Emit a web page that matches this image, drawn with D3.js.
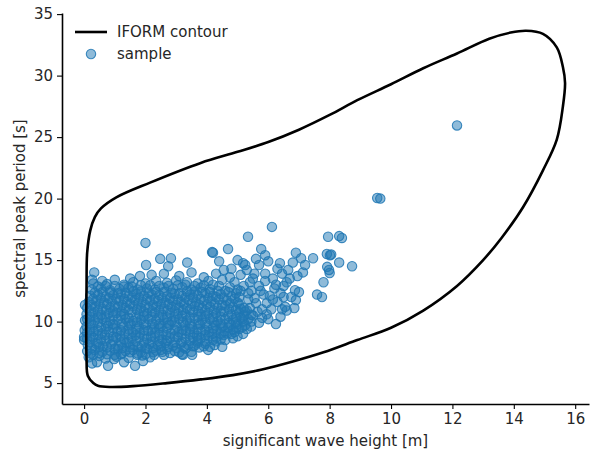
<!DOCTYPE html>
<html>
<head>
<meta charset="utf-8">
<script src="https://cdn.jsdelivr.net/npm/d3@7"></script>
<style>
	body { margin: 0; background: #fff; }
	text { font-family: 'DejaVu Sans', sans-serif; fill: #262626; }
</style>
</head>
<body>
<div class="chart"></div>
<script>
// contour points (Hs, Tp) in drawing order
const contourHs = [0.3, 0.12, 0.08, 0.07, 0.08, 0.1, 0.2, 0.35, 0.55, 1.05, 2.15, 3.8, 5.0, 6.0, 7.0, 8.0, 8.9, 10.0, 11.05, 12.15, 13.2, 13.9, 14.4, 14.95, 15.4, 15.6, 15.67, 15.6, 15.4, 14.95, 14.3, 13.6, 13.0, 12.15, 11.05, 10.0, 8.9, 7.8, 6.8, 5.8, 4.85, 3.8, 2.7, 1.6, 0.85, 0.45];
const contourTp = [5.0, 5.6, 7.0, 10.0, 13.0, 15.6, 17.4, 18.5, 19.2, 20.1, 21.3, 22.9, 23.8, 24.6, 25.6, 26.8, 28.0, 29.3, 30.6, 31.8, 33.0, 33.5, 33.65, 33.4, 32.3, 30.7, 29.4, 27.5, 24.8, 22.3, 19.3, 16.8, 15.0, 12.9, 10.9, 9.5, 8.5, 7.5, 6.75, 6.1, 5.65, 5.3, 5.0, 4.75, 4.68, 4.78];

// sample points [Hs, Tp]
const samples = [
	[12.15,25.95],[9.55,20.05],[9.65,20.0],[6.12,17.7],[2.0,16.4],[5.34,16.9],[4.17,15.65],[4.2,15.6],[4.69,15.9],[4.4,14.9],
	[5.77,15.9],[6.38,14.75],[5.18,14.75],[3.36,14.8],[2.02,14.6],[2.48,15.1],[2.83,15.15],[0.33,14.0],[1.0,13.4],[0.59,13.3],
	[0.26,13.4],[1.82,13.7],[1.3,13.0],[2.74,14.5],
	[0.78,6.4],[1.66,6.4],[1.3,6.7],[1.92,6.8],[2.28,7.3],[2.51,7.7],[0.26,6.6],[0.42,6.7],[0.98,6.95],[0.0,8.75],
	[0.03,10.1],[3.19,7.35],[1.73,7.3],[0.03,11.35],[0.0,8.5],[0.02,9.3],
	[4.04,7.7],[4.5,7.95],[3.52,7.3],[3.22,7.3],[4.85,8.65],[5.18,9.0],[5.44,9.6],[6.25,9.8],[5.8,10.3],[3.55,8.0],
	[7.95,16.9],[8.31,16.95],[8.4,16.8],[7.91,15.5],[8.01,15.4],[8.31,14.8],[8.73,14.5],[7.46,15.15],[7.98,14.2],[7.8,13.2],
	[7.59,12.2],[7.75,12.0],[6.9,15.6],[7.07,15.15],[7.2,14.6],[7.13,14.0],[6.9,11.75],[6.87,12.55],[6.65,14.2],[6.6,13.2],
	[8.05,15.45],[7.92,14.45],[8.0,13.95],
	[6.5,12.9],[6.7,13.5],[6.45,13.9],[6.55,11.2],[6.4,12.3],[6.8,14.8],[6.95,13.7],[6.75,12.0],[6.6,10.9],[6.3,11.6],
	[6.2,12.7],[6.15,13.5],[6.3,14.3],[6.0,14.9],[6.05,12.1],[6.1,11.0],[5.95,10.6],[6.4,10.4],[6.85,11.1],[7.0,12.4],
	[5.1,13.8],[5.3,14.2],[5.5,13.5],[5.7,14.6],[5.9,13.9],[5.2,12.9],[5.45,12.5],[5.7,12.9],[5.85,12.2],[5.35,11.8],
	[5.6,11.5],[5.8,11.0],[5.25,10.8],[5.5,10.5],[5.15,10.2],[5.7,9.9],[5.4,13.2],[5.05,11.4],[5.9,15.4],[5.6,15.1],
	[5.0,15.0],[5.25,14.6],
	[5.55,11.9],[5.75,12.5],[5.95,11.5],[6.15,11.8],[5.65,10.8],[5.9,13.3],[6.25,13.0],[6.5,12.0],[5.35,12.3],[5.55,13.9],
	[4.9,13.2],[5.1,12.5],[4.8,14.3],[4.55,14.2],[6.45,11.0],[6.0,10.2],[5.3,9.4],[5.0,8.8],
	[0.15,7.1],[0.5,7.2],[0.7,7.0],[1.05,7.15],[1.45,7.05],[1.9,7.25],[2.15,7.1],[2.6,7.3],[0.3,7.3],[1.2,7.35],
	[0.1,7.6],[0.35,7.7],[0.6,7.55],[0.85,7.65],[1.1,7.75],[1.35,7.6],[1.6,7.7],[1.85,7.55],[2.05,7.8],[2.35,7.65],
	[2.7,7.75],[2.95,7.6],[3.3,7.8],[3.75,7.9],[4.25,8.1],
	[0.12,8.1],[0.4,8.2],[0.62,8.0],[0.88,8.15],[1.12,8.05],[1.38,8.25],[1.6,8.1],[1.88,8.0],[2.12,8.2],[2.4,8.1],
	[2.65,8.25],[2.9,8.05],[3.15,8.2],[3.4,8.1],[3.7,8.3],[3.95,8.2],[4.3,8.4],[4.6,8.5],
	[0.1,8.6],[0.3,8.7],[0.55,8.55],[0.8,8.65],[1.05,8.7],[1.3,8.55],[1.55,8.65],[1.8,8.75],[2.05,8.6],[2.3,8.7],
	[2.55,8.55],[2.8,8.65],[3.05,8.75],[3.3,8.6],[3.55,8.7],[3.8,8.65],[4.05,8.8],[4.3,8.7],[4.55,8.9],[4.8,9.0],
	[0.1,9.1],[0.32,9.2],[0.58,9.05],[0.82,9.15],[1.08,9.2],[1.32,9.05],[1.58,9.15],[1.82,9.1],[2.08,9.25],[2.32,9.1],
	[2.58,9.2],[2.82,9.05],[3.08,9.15],[3.32,9.25],[3.58,9.1],[3.82,9.2],[4.08,9.15],[4.32,9.3],[4.58,9.2],[4.85,9.35],[5.05,9.4],
	[0.08,9.6],[0.3,9.7],[0.55,9.55],[0.78,9.65],[1.02,9.7],[1.28,9.6],[1.52,9.75],[1.78,9.6],[2.02,9.7],[2.28,9.55],
	[2.52,9.65],[2.78,9.75],[3.02,9.6],[3.28,9.7],[3.52,9.6],[3.78,9.75],[4.02,9.65],[4.28,9.7],[4.52,9.6],[4.78,9.75],[5.0,9.8],[5.25,9.7],
	[0.1,10.2],[0.35,10.1],[0.6,10.2],[0.85,10.05],[1.1,10.15],[1.35,10.2],[1.6,10.05],[1.85,10.15],[2.1,10.2],[2.35,10.1],
	[2.6,10.15],[2.85,10.05],[3.1,10.2],[3.35,10.1],[3.6,10.25],[3.85,10.1],[4.1,10.2],[4.35,10.05],[4.6,10.2],[4.85,10.15],[5.1,10.3],[5.35,10.2],
	[0.08,10.6],[0.3,10.7],[0.55,10.55],[0.8,10.65],[1.05,10.7],[1.3,10.6],[1.55,10.75],[1.8,10.6],[2.05,10.65],[2.3,10.7],
	[2.55,10.55],[2.8,10.7],[3.05,10.65],[3.3,10.6],[3.55,10.75],[3.8,10.6],[4.05,10.7],[4.3,10.65],[4.55,10.8],[4.8,10.6],[5.05,10.75],[5.3,10.9],
	[0.1,11.1],[0.35,11.2],[0.6,11.05],[0.85,11.15],[1.1,11.2],[1.35,11.1],[1.6,11.25],[1.85,11.1],[2.1,11.15],[2.35,11.2],
	[2.6,11.05],[2.85,11.2],[3.1,11.15],[3.35,11.1],[3.6,11.25],[3.85,11.1],[4.1,11.2],[4.35,11.15],[4.6,11.3],[4.85,11.2],[5.1,11.05],
	[0.15,11.6],[0.4,11.7],[0.65,11.55],[0.9,11.65],[1.15,11.7],[1.4,11.6],[1.65,11.75],[1.9,11.6],[2.15,11.7],[2.4,11.65],
	[2.65,11.55],[2.9,11.7],[3.15,11.6],[3.4,11.75],[3.65,11.6],[3.9,11.7],[4.15,11.65],[4.4,11.8],[4.65,11.7],[4.9,11.85],
	[0.2,12.1],[0.45,12.2],[0.7,12.05],[0.95,12.15],[1.2,12.2],[1.45,12.1],[1.7,12.25],[1.95,12.1],[2.2,12.2],[2.45,12.15],
	[2.7,12.05],[2.95,12.25],[3.2,12.1],[3.45,12.2],[3.7,12.15],[3.95,12.3],[4.2,12.1],[4.45,12.25],[4.7,12.4],[4.95,12.3],
	[0.25,12.6],[0.55,12.7],[0.85,12.55],[1.15,12.65],[1.45,12.75],[1.75,12.6],[2.05,12.7],[2.3,12.6],[2.6,12.75],[2.9,12.65],
	[3.2,12.8],[3.5,12.6],[3.8,12.75],[4.1,12.65],[4.4,12.9],[4.75,12.8],
	[0.3,13.1],[0.75,13.05],[1.6,13.2],[2.0,13.1],[2.35,13.3],[2.7,13.15],[3.0,13.35],[3.35,13.2],[3.7,13.1],[4.05,13.3],[4.5,13.4],
	[2.2,13.8],[2.6,13.9],[3.1,13.7],[3.5,14.0],[3.9,13.6],[4.3,13.9],[4.75,13.6],[1.5,13.5],
	[0.22,7.4],[0.75,7.35],[1.25,7.45],[1.75,7.4],[2.25,7.5],[2.8,7.45],[3.5,7.55],
	[0.25,7.85],[0.75,7.9],[1.25,7.85],[1.75,7.95],[2.25,7.85],[2.75,7.95],[3.25,7.9],[3.6,8.05],[4.1,7.95],
	[0.2,8.35],[0.7,8.4],[1.2,8.3],[1.7,8.4],[2.2,8.35],[2.7,8.45],[3.2,8.35],[3.7,8.45],[4.2,8.5],
	[0.22,8.85],[0.68,8.9],[1.18,8.85],[1.68,8.9],[2.18,8.8],[2.68,8.9],[3.18,8.95],[3.68,8.85],[4.18,9.0],[4.68,9.05],
	[0.2,9.35],[0.7,9.4],[1.2,9.3],[1.7,9.4],[2.2,9.35],[2.7,9.45],[3.2,9.35],[3.7,9.4],[4.2,9.45],[4.7,9.5],[5.15,9.55],
	[0.22,9.85],[0.72,9.9],[1.22,9.85],[1.72,9.95],[2.22,9.85],[2.72,9.9],[3.22,9.95],[3.72,9.85],[4.22,9.95],[4.72,9.9],[5.2,10.0],
	[0.2,10.4],[0.7,10.35],[1.2,10.45],[1.7,10.35],[2.2,10.4],[2.7,10.35],[3.2,10.45],[3.7,10.4],[4.2,10.35],[4.7,10.45],[5.2,10.5],
	[0.22,10.85],[0.72,10.9],[1.22,10.85],[1.72,10.95],[2.22,10.85],[2.72,10.9],[3.22,10.95],[3.72,10.85],[4.22,10.9],[4.72,11.0],[5.2,11.1],
	[0.25,11.35],[0.75,11.4],[1.25,11.35],[1.75,11.45],[2.25,11.35],[2.75,11.4],[3.25,11.45],[3.75,11.35],[4.25,11.45],[4.75,11.5],
	[0.3,11.85],[0.8,11.9],[1.3,11.85],[1.8,11.95],[2.3,11.85],[2.8,11.9],[3.3,11.95],[3.8,11.85],[4.3,12.0],[4.8,12.05],
	[0.35,12.35],[0.85,12.4],[1.35,12.35],[1.85,12.45],[2.35,12.4],[2.85,12.35],[3.35,12.45],[3.85,12.4],[4.35,12.5],
	[0.45,12.85],[1.0,12.9],[1.55,12.85],[2.15,12.95],[2.75,12.9],[3.3,13.0],[3.9,12.95],
	[0.5,7.45],[1.0,7.3],[1.5,7.5],[2.0,7.35],[2.55,7.55],[3.1,7.5],
	[0.5,7.95],[1.0,7.8],[1.5,7.9],[2.0,7.85],[2.5,8.0],[3.0,7.85],[3.9,8.0],
	[0.45,8.3],[0.95,8.45],[1.45,8.35],[1.95,8.3],[2.45,8.4],[2.95,8.3],[3.45,8.45],[3.95,8.4],[4.45,8.55],
	[0.45,8.9],[0.95,8.8],[1.45,8.95],[1.95,8.85],[2.45,8.9],[2.95,8.8],[3.45,8.95],[3.95,8.9],[4.45,9.0],[4.9,9.15],
	[0.45,9.3],[0.95,9.45],[1.45,9.35],[1.95,9.3],[2.45,9.45],[2.95,9.35],[3.45,9.4],[3.95,9.3],[4.45,9.45],[4.95,9.5],
	[0.45,9.9],[0.95,9.8],[1.45,9.9],[1.95,9.85],[2.45,9.8],[2.95,9.95],[3.45,9.85],[3.95,9.9],[4.45,9.85],[4.95,9.95],[5.45,10.0],
	[0.45,10.35],[0.95,10.45],[1.45,10.3],[1.95,10.45],[2.45,10.35],[2.95,10.4],[3.45,10.35],[3.95,10.45],[4.45,10.4],[4.95,10.35],[5.45,10.55],
	[0.45,10.9],[0.95,10.85],[1.45,10.95],[1.95,10.8],[2.45,10.9],[2.95,10.85],[3.45,10.95],[3.95,10.9],[4.45,10.85],[4.95,10.95],[5.4,11.1],
	[0.5,11.4],[1.0,11.3],[1.5,11.45],[2.0,11.35],[2.5,11.4],[3.0,11.35],[3.5,11.45],[4.0,11.4],[4.5,11.35],[5.0,11.55],
	[0.55,11.9],[1.05,11.85],[1.55,11.95],[2.05,11.85],[2.55,11.9],[3.05,11.8],[3.55,11.95],[4.05,11.9],[4.55,11.95],[5.05,12.0],
	[0.6,12.4],[1.1,12.3],[1.6,12.45],[2.1,12.35],[2.6,12.4],[3.1,12.3],[3.6,12.45],[4.1,12.4],[4.6,12.5],[5.0,12.6],
	[0.7,12.9],[1.3,12.85],[1.85,12.95],[2.45,12.9],[3.05,12.95],[3.6,12.9],[4.2,13.0]
];

const xTicks = [0, 2, 4, 6, 8, 10, 12, 14, 16];
const yTicks = [5, 10, 15, 20, 25, 30, 35];

let w = 597;
let h = 453;
let mLeft = 62, mRight = 589, mTop = 13, mBottom = 404;
let fontSize = '15px';

let svg = d3.select('.chart').append('svg').attr('width', w).attr('height', h);

let xScale = d3.scaleLinear().domain([ -0.72, 16.45 ]).range([ mLeft, mRight ]);
let yScale = d3.scaleLinear().domain([ 3.3, 35.09 ]).range([ mBottom, mTop ]);

// scatter
svg
	.append('g')
	.selectAll('circle')
	.data(samples)
	.enter()
	.append('circle')
	.attr('cx', (d) => xScale(d[0]))
	.attr('cy', (d) => yScale(d[1]))
	.attr('r', 4.7)
	.attr('fill', '#1f77b4')
	.attr('fill-opacity', 0.5)
	.attr('stroke', '#1f77b4')
	.attr('stroke-opacity', 0.85)
	.attr('stroke-width', 1.1);

// contour
let contour = contourHs.map((v, i) => [ v, contourTp[i] ]);
svg
	.append('path')
	.datum(contour)
	.attr('fill', 'none')
	.attr('stroke', '#000')
	.attr('stroke-width', 2.6)
	.attr('d', d3.line().x((d) => xScale(d[0])).y((d) => yScale(d[1])).curve(d3.curveCatmullRomClosed));

// axes
let xAxis = svg
	.append('g')
	.attr('transform', 'translate(0,' + mBottom + ')')
	.call(d3.axisBottom(xScale).tickValues(xTicks).tickSize(5).tickPadding(4).tickSizeOuter(0));

let yAxis = svg
	.append('g')
	.attr('transform', 'translate(' + mLeft + ',0)')
	.call(d3.axisLeft(yScale).tickValues(yTicks).tickSize(5).tickPadding(4).tickSizeOuter(0));

[ xAxis, yAxis ].forEach((a) => {
	a.select('.domain').attr('stroke', '#000').attr('stroke-width', 1.6);
	a.selectAll('.tick line').attr('stroke', '#000').attr('stroke-width', 1.1);
	a.selectAll('.tick text').attr('font-size', fontSize).attr('font-family', 'DejaVu Sans').attr('fill', '#262626');
});

// x label
svg
	.append('text')
	.attr('x', (mLeft + mRight) / 2)
	.attr('y', 446)
	.attr('text-anchor', 'middle')
	.attr('font-size', fontSize)
	.text('significant wave height [m]');

// y label
svg
	.append('text')
	.attr('transform', 'translate(25,' + (mTop + mBottom) / 2 + ') rotate(-90)')
	.attr('text-anchor', 'middle')
	.attr('font-size', fontSize)
	.text('spectral peak period [s]');

// legend
let legend = svg.append('g');
legend
	.append('line')
	.attr('x1', 75)
	.attr('x2', 107)
	.attr('y1', 32)
	.attr('y2', 32)
	.attr('stroke', '#000')
	.attr('stroke-width', 2.6);
legend
	.append('text')
	.attr('x', 117)
	.attr('y', 37)
	.attr('font-size', fontSize)
	.text('IFORM contour');
legend
	.append('circle')
	.attr('cx', 91)
	.attr('cy', 54)
	.attr('r', 4.7)
	.attr('fill', '#1f77b4')
	.attr('fill-opacity', 0.5)
	.attr('stroke', '#1f77b4')
	.attr('stroke-opacity', 0.85)
	.attr('stroke-width', 1.1);
legend
	.append('text')
	.attr('x', 117)
	.attr('y', 59)
	.attr('font-size', fontSize)
	.text('sample');
</script>
</body>
</html>
